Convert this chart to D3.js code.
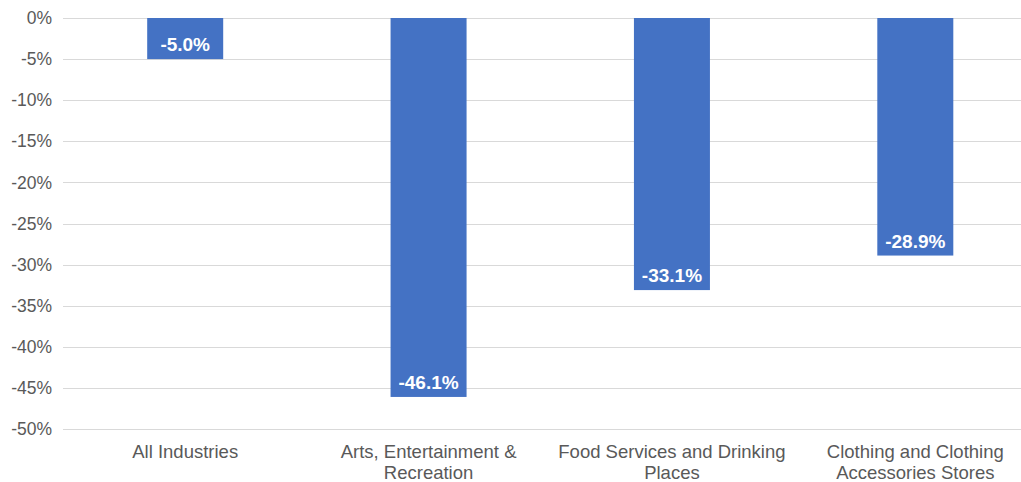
<!DOCTYPE html>
<html><head><meta charset="utf-8">
<script src="https://cdn.jsdelivr.net/npm/d3@7"></script>
<style>body{margin:0;background:#fff}svg{display:block}</style>
</head><body>
<svg id="c" width="1021" height="482"></svg>
<script>
const categories = ["All Industries", "Arts, Entertainment & Recreation", "Food Services and Drinking Places", "Clothing and Clothing Accessories Stores"];
const categoryLines = [["All Industries"], ["Arts, Entertainment &", "Recreation"], ["Food Services and Drinking", "Places"], ["Clothing and Clothing", "Accessories Stores"]];
const values = [-5.0, -46.1, -33.1, -28.9];
const yTicks = [0, -5, -10, -15, -20, -25, -30, -35, -40, -45, -50];

const svg = d3.select("#c");
const font = "'Liberation Sans', Arial, sans-serif";
const x = d3.scaleBand().domain(categories).range([63.5, 1037]).paddingInner(0.6877).paddingOuter(0.3439);
const y = d3.scaleLinear().domain([-50, 0]).range([429, 18]);

// gridlines
svg.append("g").selectAll("line").data(yTicks).join("line")
  .attr("x1", 63).attr("x2", 1037)
  .attr("y1", d => Math.round(y(d)) + 0.5).attr("y2", d => Math.round(y(d)) + 0.5)
  .attr("stroke", "#d9d9d9").attr("stroke-width", 1);

// y labels
svg.append("g").selectAll("text").data(yTicks).join("text")
  .attr("x", 52).attr("y", d => y(d)).attr("dy", "0.35em")
  .attr("text-anchor", "end").attr("font-family", font).attr("font-size", 17.5)
  .attr("fill", "#595959").text(d => d + "%");

// bars
const bw = 76;
svg.append("g").selectAll("rect").data(values).join("rect")
  .attr("x", (d, i) => x(categories[i]) + x.bandwidth() / 2 - bw / 2)
  .attr("width", bw)
  .attr("y", d => y(0)).attr("height", d => y(d) - y(0))
  .attr("fill", "#4472C4");

// bar labels
svg.append("g").selectAll("text").data(values).join("text")
  .attr("x", (d, i) => x(categories[i]) + x.bandwidth() / 2)
  .attr("y", d => y(d) - 8)
  .attr("text-anchor", "middle").attr("font-family", font).attr("font-size", 19)
  .attr("font-weight", "bold").attr("fill", "#fff")
  .text(d => d.toFixed(1) + "%");

// category labels
const cg = svg.append("g").selectAll("text").data(categoryLines).join("text")
  .attr("text-anchor", "middle").attr("font-family", font).attr("font-size", 18.5)
  .attr("fill", "#595959")
  .attr("transform", (d, i) => `translate(${x(categories[i]) + x.bandwidth() / 2},458)`);
cg.selectAll("tspan").data(d => d).join("tspan")
  .attr("x", 0).attr("y", (d, j) => j * 21).text(d => d);
</script>
</body></html>
